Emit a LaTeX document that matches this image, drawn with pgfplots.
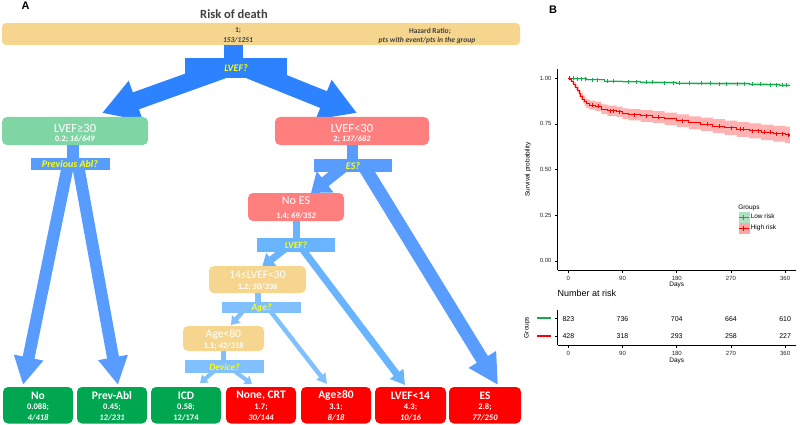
\documentclass[border=0pt]{standalone}
\usepackage{pgfplots}
\pgfplotsset{compat=1.18}
\usepackage{pgfplotstable}
\usepgfplotslibrary{fillbetween}
\usetikzlibrary{arrows.meta}
\usepackage{fontspec}
\setmainfont{Carlito}
\newfontfamily\arial{Liberation Sans}
\definecolor{bl1}{RGB}{45,130,255}
\definecolor{bl2}{RGB}{88,156,255}
\definecolor{bl3}{RGB}{105,180,255}
\definecolor{bl4}{RGB}{128,192,255}
\definecolor{lgreen}{RGB}{127,214,164}
\definecolor{salmon}{RGB}{255,127,127}
\definecolor{lorange}{RGB}{246,214,142}
\definecolor{dgreen}{RGB}{0,166,80}
\definecolor{dred}{RGB}{255,0,0}
\definecolor{qyel}{RGB}{255,255,0}
\definecolor{txtgray}{RGB}{64,64,64}
\definecolor{kmgreen}{RGB}{20,170,80}
\definecolor{kmred}{RGB}{255,0,0}
\newcommand{\fs}[1]{\fontsize{#1}{#1}\selectfont}

\pgfplotstableread{
t s lo hi
0 1 1 1
10 0.996 0.992 0.999
30 0.991 0.986 0.995
60 0.984 0.978 0.989
90 0.979 0.973 0.985
120 0.977 0.970 0.983
150 0.975 0.968 0.982
180 0.973 0.966 0.980
210 0.971 0.964 0.978
240 0.970 0.962 0.977
270 0.969 0.961 0.977
300 0.967 0.959 0.975
330 0.964 0.955 0.972
350 0.962 0.953 0.971
368 0.962 0.953 0.971
}\greenkm

\pgfplotstableread{
t s lo hi
0 1 1 1
3 0.99 0.983 0.997
6 0.98 0.970 0.990
9 0.965 0.952 0.978
12 0.95 0.934 0.966
15 0.935 0.917 0.953
18 0.915 0.895 0.935
21 0.9 0.879 0.921
24 0.885 0.863 0.907
27 0.87 0.847 0.893
30 0.86 0.836 0.884
35 0.852 0.827 0.877
45 0.845 0.819 0.871
55 0.83 0.803 0.857
65 0.822 0.794 0.850
80 0.815 0.786 0.844
90 0.805 0.775 0.835
100 0.8 0.769 0.831
120 0.793 0.761 0.825
140 0.787 0.754 0.820
160 0.777 0.743 0.811
180 0.767 0.732 0.802
200 0.755 0.719 0.791
220 0.747 0.710 0.784
240 0.737 0.699 0.775
260 0.728 0.689 0.767
280 0.719 0.679 0.759
300 0.711 0.670 0.752
320 0.703 0.661 0.745
340 0.696 0.653 0.739
360 0.689 0.644 0.734
368 0.684 0.639 0.729
}\redkm

\pgfplotstableread{
t s
8 1
15 0.996
22 0.996
28 0.996
40 0.991
48 0.991
65 0.984
75 0.984
100 0.979
112 0.979
130 0.977
140 0.977
160 0.975
175 0.975
185 0.973
200 0.973
220 0.971
235 0.971
250 0.970
262 0.970
280 0.969
292 0.969
305 0.967
318 0.967
335 0.964
345 0.964
355 0.962
362 0.962
}\greencens

\pgfplotstableread{
t s
2 1
5 0.99
40 0.852
50 0.845
70 0.822
75 0.822
85 0.815
110 0.8
130 0.793
150 0.787
190 0.767
230 0.747
250 0.737
270 0.728
285 0.719
290 0.719
305 0.711
315 0.711
325 0.703
335 0.703
345 0.696
355 0.696
365 0.689
}\redcens

\pgfplotstableread{
t y label
0 0.75 823
90 0.75 736
180 0.75 704
270 0.75 664
360 0.75 610
0 0.25 428
90 0.25 318
180 0.25 293
270 0.25 258
360 0.25 227
}\risktab

\begin{document}
\begin{tikzpicture}
\path (0,0) rectangle (800pt,-424pt);

\begin{scope}[x=1pt,y=-1pt]
% ---------- arrows ----------
\draw[bl1, line width=18pt, -{Triangle[width=40pt,length=36pt]}] (222,70) -- (102,113);
\draw[bl1, line width=18pt, -{Triangle[width=40pt,length=36pt]}] (250,70) -- (357,113);
\draw[bl2, line width=12pt, -{Triangle[width=28pt,length=28pt]}] (68,165) -- (23,385);
\draw[bl2, line width=12pt, -{Triangle[width=28pt,length=28pt]}] (78,165) -- (118,385);
\draw[bl2, line width=11pt, -{Triangle[width=26pt,length=18pt]}] (345,166) -- (311,193);
\draw[bl2, line width=13pt, -{Triangle[width=30pt,length=30pt]}] (365,168) -- (498,385);
\draw[bl3, line width=7pt, -{Triangle[width=16pt,length=12pt]}] (290,245) -- (262,267);
\draw[bl3, line width=7pt, -{Triangle[width=16pt,length=14pt]}] (300,246) -- (405,385);
\draw[bl4, line width=4.5pt, -{Triangle[width=11pt,length=8pt]}] (245,309) -- (231,325);
\draw[bl4, line width=4.5pt, -{Triangle[width=11pt,length=10pt]}] (268,308) -- (327,384);
\draw[bl4, line width=4pt, -{Triangle[width=10pt,length=7pt]}] (218,368) -- (200,383);
\draw[bl4, line width=4pt, -{Triangle[width=10pt,length=7pt]}] (230,368) -- (252,384);
% ---------- stems and question bars ----------
\fill[bl1] (224,44) rectangle (243,59);
\fill[bl1] (185,58) rectangle (287,78);
\fill[bl2] (67,144) rectangle (79,159);
\fill[bl2] (31,158) rectangle (110,170);
\fill[bl2] (347,144) rectangle (358,160);
\fill[bl2] (314,159) rectangle (392,172);
\fill[bl3] (293,220) rectangle (300,239);
\fill[bl3] (257,238) rectangle (335,252);
\fill[bl4] (255,292) rectangle (261,303);
\fill[bl4] (222,302) rectangle (301,313);
\fill[bl4] (221,350) rectangle (226,361);
\fill[bl4] (185,360) rectangle (264,373);
% ---------- boxes ----------
\fill[lorange, rounded corners=4pt] (2,23) rectangle (520,45);
\fill[lgreen, rounded corners=5pt] (2,117) rectangle (148,145);
\fill[salmon, rounded corners=5pt] (275,117) rectangle (429,145);
\fill[salmon, rounded corners=5pt] (248,193) rectangle (344,221);
\fill[lorange, rounded corners=5pt] (209,266) rectangle (306,293);
\fill[lorange, rounded corners=5pt] (183,326) rectangle (264,351);
\fill[dgreen, rounded corners=5pt] (3,387) rectangle (73,423.5);
\fill[dgreen, rounded corners=5pt] (77,387) rectangle (147,423.5);
\fill[dgreen, rounded corners=5pt] (151,387) rectangle (221,423.5);
\fill[dred, rounded corners=5pt] (226,387) rectangle (296,423.5);
\fill[dred, rounded corners=5pt] (301,387) rectangle (371,423.5);
\fill[dred, rounded corners=5pt] (375,387) rectangle (446,423.5);
\fill[dred, rounded corners=5pt] (449,387) rectangle (521,423.5);
% ---------- texts ----------
\node[font=\arial\bfseries\fs{11}, inner sep=0pt] at (25.5,6) {A};
\node[font=\arial\bfseries\fs{11}, inner sep=0pt] at (553,10) {B};
\node[font=\bfseries\fs{12.5}, text=txtgray] at (234,14) {Risk of death};
\node[font=\bfseries\fs{7.5}, text=txtgray] at (238,31) {1;};
\node[font=\bfseries\itshape\fs{7.5}, text=txtgray] at (238,40.5) {153/1251};
\node[font=\bfseries\fs{7.5}, text=txtgray] at (430,31) {Hazard Ratio;};
\node[font=\bfseries\itshape\fs{7.5}, text=txtgray] at (427,40.5) {pts with event/pts in the group};
\node[font=\bfseries\itshape\fs{10}, text=qyel] at (236,68) {LVEF?};
\node[font=\fs{12.5}, text=white] at (75,128) {LVEF≥30};
\node[font=\bfseries\fs{8.3}, text=white] at (75,139.5) {0.2; \textit{16/649}};
\node[font=\fs{12.5}, text=white] at (352,128) {LVEF<30};
\node[font=\bfseries\fs{8.3}, text=white] at (352,139.5) {2; \textit{137/682}};
\node[font=\bfseries\itshape\fs{10}, text=qyel] at (70,164) {Previous Abl?};
\node[font=\bfseries\itshape\fs{10}, text=qyel] at (353,166) {ES?};
\node[font=\fs{12}, text=white] at (296,201) {No ES};
\node[font=\bfseries\fs{8.3}, text=white] at (296,216) {1.4; \textit{69/352}};
\node[font=\bfseries\itshape\fs{9.5}, text=qyel] at (296,245) {LVEF?};
\node[font=\fs{11.5}, text=white] at (257.5,275) {14≤LVEF<30};
\node[font=\bfseries\fs{8.3}, text=white] at (257.5,287) {1.2; \textit{50/336}};
\node[font=\bfseries\itshape\fs{9.5}, text=qyel] at (261.5,308) {Age?};
\node[font=\fs{11.5}, text=white] at (223.5,334.5) {Age<80};
\node[font=\bfseries\fs{8.3}, text=white] at (223.5,346) {1.1; \textit{42/318}};
\node[font=\bfseries\itshape\fs{9.5}, text=qyel] at (224.5,367) {Device?};
% bottom boxes
\foreach \cx/\ti/\va/\vb in {38/No/0.088;/{\textit{4/418}}, 112/Prev-Abl/0.45;/{\textit{12/231}}, 186/ICD/0.58;/{12/174}, 261/{None, CRT}/1.7;/{\textit{30/144}}, 336/Age≥80/3.1;/{\textit{8/18}}, 410.5/LVEF<14/4.3;/{\textit{10/16}}, 485/ES/2.8;/{\textit{77/250}}}{
  \node[font=\bfseries\fs{11.5}, text=white] at (\cx,395.5) {\ti};
  \node[font=\bfseries\fs{8.5}, text=white] at (\cx,407.5) {\va};
  \node[font=\bfseries\fs{8.5}, text=white] at (\cx,418) {\vb};
}
\end{scope}

% ---------- Kaplan-Meier ----------
\begin{axis}[at={(557.5pt,-270pt)}, anchor=south west, scale only axis,
  width=238.5pt, height=201pt,
  xmin=-18, xmax=378, ymin=-0.05, ymax=1.05,
  axis x line*=bottom, axis y line*=left,
  axis line style={black, line width=0.7pt, -},
  xtick={0,90,180,270,360}, ytick={0,0.25,0.5,0.75,1},
  yticklabels={0.00,0.25,0.50,0.75,1.00},
  xticklabels={0,90,180,270,360},
  tick align=outside, major tick length=2.5pt,
  tick style={black, line width=0.6pt},
  ticklabel style={font=\arial\fs{6}, text=black!85},
  /pgf/number format/assume math mode=true,
  xlabel={Days}, ylabel={Survival probability},
  label style={font=\arial\fs{6.5}},
  xlabel style={at={([yshift=-15pt]axis description cs:0.5,0)}, anchor=center},
  ylabel style={at={([xshift=-29.5pt]axis description cs:0,0.5)}, anchor=center},
  clip=false,
  legend style={at={(axis description cs:0.757,0.289)}, anchor=north west, draw=none, fill=none,
    font=\arial\fs{6.5}, inner sep=0pt, row sep=0.5pt, nodes={inner sep=1.5pt}},
  legend cell align=left,
]
\addplot[name path=gu, draw=none, const plot, forget plot] table[x=t,y=hi]{\greenkm};
\addplot[name path=gl, draw=none, const plot, forget plot] table[x=t,y=lo]{\greenkm};
\addplot[kmgreen, fill opacity=0.3, draw=none, forget plot] fill between[of=gu and gl];
\addplot[name path=ru, draw=none, const plot, forget plot] table[x=t,y=hi]{\redkm};
\addplot[name path=rl, draw=none, const plot, forget plot] table[x=t,y=lo]{\redkm};
\addplot[kmred, fill opacity=0.3, draw=none, forget plot] fill between[of=ru and rl];
\addplot[kmgreen, line width=1pt, const plot, forget plot] table[x=t,y=s]{\greenkm};
\addplot[kmred, line width=1pt, const plot, forget plot] table[x=t,y=s]{\redkm};
\addplot[kmgreen, only marks, mark=|, mark size=2pt, mark options={line width=0.6pt}, forget plot] table[x=t,y=s]{\greencens};
\addplot[kmred, only marks, mark=|, mark size=2pt, mark options={line width=0.6pt}, forget plot] table[x=t,y=s]{\redcens};
\addlegendimage{legend image code/.code={
  \fill[kmgreen!35] (0pt,-5pt) rectangle (10pt,5pt);
  \draw[kmgreen, line width=1pt] (0pt,0pt) -- (10pt,0pt);
  \draw[kmgreen, line width=0.6pt] (5pt,-2.5pt) -- (5pt,2.5pt);}}
\addlegendentry{Low risk}
\addlegendimage{legend image code/.code={
  \fill[kmred!35] (0pt,-5pt) rectangle (10pt,5pt);
  \draw[kmred, line width=1pt] (0pt,0pt) -- (10pt,0pt);
  \draw[kmred, line width=0.6pt] (5pt,-2.5pt) -- (5pt,2.5pt);}}
\addlegendentry{High risk}
\node[font=\arial\fs{6.5}, anchor=west, inner sep=0pt] at (axis cs:281.8,0.29) {Groups};
\end{axis}

% ---------- risk table ----------
\begin{axis}[at={(557.5pt,-345pt)}, anchor=south west, scale only axis,
  width=238.5pt, height=35pt,
  xmin=-18, xmax=378, ymin=0, ymax=1,
  axis x line*=bottom, axis y line*=left,
  axis line style={black, line width=0.7pt, -},
  xtick={0,90,180,270,360}, xticklabels={0,90,180,270,360},
  ytick={0.25,0.75},
  yticklabels={{\textcolor{kmred}{\rule[0.2ex]{14pt}{2pt}}},{\textcolor{kmgreen}{\rule[0.2ex]{14pt}{2pt}}}},
  tick align=outside, major tick length=2.5pt,
  tick style={black, line width=0.6pt},
  ticklabel style={font=\arial\fs{6}, text=black!85},
  /pgf/number format/assume math mode=true,
  xlabel={Days}, ylabel={Groups},
  label style={font=\arial\fs{6.5}},
  xlabel style={at={([yshift=-16pt]axis description cs:0.5,0)}, anchor=center},
  ylabel style={at={([xshift=-30.5pt]axis description cs:0,0.5)}, anchor=center},
  title={Number at risk},
  title style={at={([yshift=7pt]axis description cs:0,1)}, anchor=south west, inner sep=0pt, font=\arial\fs{9}},
  clip=false,
]
\addplot[draw=none, mark=none, nodes near coords, point meta=explicit symbolic,
  every node near coord/.append style={anchor=center, font=\arial\fs{7}, inner sep=0pt}]
  table[x=t, y=y, meta=label]{\risktab};
\end{axis}
\end{tikzpicture}
\end{document}
